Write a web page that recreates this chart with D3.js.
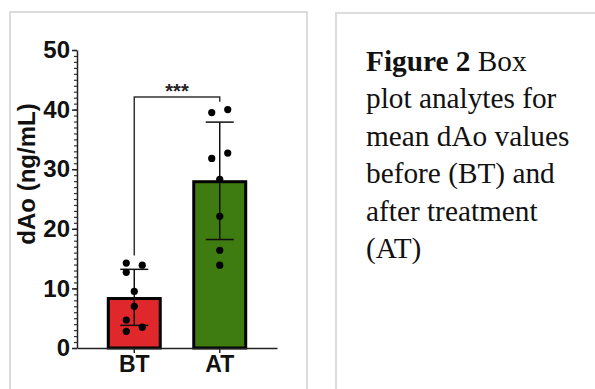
<!DOCTYPE html>
<html>
<head>
<meta charset="utf-8">
<script src="https://cdn.jsdelivr.net/npm/d3@7"></script>
<style>
  html, body { margin: 0; padding: 0; background: #fff; }
  svg { display: block; }
</style>
</head>
<body>
<svg id="chart" width="595" height="389"></svg>
<script>
// ---- data ----
const categories = ["BT", "AT"];
const means = [8.3, 27.9];
const errLow = [3.8, 18.2];
const errHigh = [13.2, 37.9];
const pointsBT = [14.25, 13.9, 12.7, 9.5, 7.0, 4.7, 3.5, 2.8];
const pointsAT = [40.0, 39.5, 32.7, 31.8, 28.3, 22.1, 16.4, 13.9];
const yTicks = [0, 10, 20, 30, 40, 50];
const yTitle = "dAo (ng/mL)";
const sigLabel = "***";
const bracketLevels = [15.5, 42.1, 41.3]; // left leg end, top, right leg end (data units)
const captionBold = "Figure 2";
const captionLines = [" Box", "plot analytes for", "mean dAo values", "before (BT) and", "after treatment", "(AT)"];
const barColors = ["#e0282c", "#3e7b10"];

// ---- setup ----
const svg = d3.select("#chart");
const font = "'Liberation Sans', Arial, sans-serif";

// panels
svg.append("rect").attr("x", 10).attr("y", 12).attr("width", 297).attr("height", 400)
  .attr("fill", "#fff").attr("stroke", "#dcdcdc").attr("stroke-width", 2);
svg.append("rect").attr("x", 336).attr("y", 13).attr("width", 300).attr("height", 400)
  .attr("fill", "#fff").attr("stroke", "#dcdcdc").attr("stroke-width", 2);

const y = d3.scaleLinear().domain([0, 50]).range([348, 50]);
const x = d3.scaleBand().domain(categories).range([77, 277])
  .paddingInner(0.392).paddingOuter(0.366).align(0.5);

const g = svg.append("g");

// bars
g.selectAll("rect.bar").data(categories).join("rect")
  .attr("class", "bar")
  .attr("x", d => x(d))
  .attr("width", x.bandwidth())
  .attr("y", (d, i) => y(means[i]))
  .attr("height", (d, i) => y(0) - y(means[i]))
  .attr("fill", (d, i) => barColors[i])
  .attr("stroke", "#000").attr("stroke-width", 3);

// error bars
const cx = d => x(d) + x.bandwidth() / 2;
categories.forEach((c, i) => {
  g.append("line").attr("x1", cx(c)).attr("x2", cx(c))
    .attr("y1", y(errLow[i])).attr("y2", y(errHigh[i]))
    .attr("stroke", "#111").attr("stroke-width", 1.5);
  [errLow[i], errHigh[i]].forEach(v => {
    g.append("line").attr("x1", cx(c) - 14).attr("x2", cx(c) + 14)
      .attr("y1", y(v)).attr("y2", y(v))
      .attr("stroke", "#111").attr("stroke-width", 1.5);
  });
});

// points with simple scatter (clusters alternate left/right)
function swarm(vals) {
  const sorted = vals.slice().sort((a, b) => a - b);
  const out = [];
  let cluster = [sorted[0]];
  const flush = () => {
    if (cluster.length === 1) out.push({ v: cluster[0], k: 0 });
    else cluster.forEach((v, j) => out.push({ v, k: j % 2 === 0 ? -1 : 1 }));
  };
  for (let j = 1; j < sorted.length; j++) {
    if (Math.abs(y(sorted[j]) - y(sorted[j - 1])) < 10) cluster.push(sorted[j]);
    else { flush(); cluster = [sorted[j]]; }
  }
  flush();
  return out;
}
[pointsBT, pointsAT].forEach((pts, i) => {
  const c = categories[i];
  g.selectAll(null).data(swarm(pts)).join("circle")
    .attr("cx", d => cx(c) + d.k * 8)
    .attr("cy", d => y(d.v))
    .attr("r", 3.6)
    .attr("fill", "#000");
});

// y axis: minor ticks
g.append("g").attr("transform", "translate(77,0)")
  .call(d3.axisLeft(y).tickValues(d3.range(0, 51, 1)).tickSize(3).tickFormat(""))
  .call(s => s.select(".domain").remove())
  .call(s => s.selectAll("line").attr("stroke", "#333").attr("stroke-width", 1.2));

// y axis: major
const yAxis = g.append("g").attr("transform", "translate(77,0)")
  .call(d3.axisLeft(y).tickValues(yTicks).tickSize(5).tickSizeOuter(0).tickPadding(2));
yAxis.select(".domain").attr("stroke", "#222").attr("stroke-width", 1.5);
yAxis.selectAll("line").attr("stroke", "#222").attr("stroke-width", 1.5);
yAxis.selectAll("text").attr("font-family", font).attr("font-weight", "bold")
  .attr("font-size", 24).attr("fill", "#111");

// x axis
const xAxis = g.append("g").attr("transform", "translate(0,348)")
  .call(d3.axisBottom(x).tickSize(5).tickSizeOuter(0).tickPadding(3));
xAxis.select(".domain").attr("stroke", "#222").attr("stroke-width", 1.5);
xAxis.selectAll("line").attr("stroke", "#222").attr("stroke-width", 1.5);
xAxis.selectAll("text").attr("font-family", font).attr("font-weight", "bold")
  .attr("font-size", 23).attr("fill", "#111");

// y title
g.append("text")
  .attr("transform", `translate(35,174) rotate(-90)`)
  .attr("text-anchor", "middle")
  .attr("font-family", font).attr("font-weight", "bold").attr("font-size", 24)
  .attr("fill", "#111")
  .text(yTitle);

// significance bracket
const xl = cx(categories[0]), xr = cx(categories[1]);
g.append("path")
  .attr("d", `M${xl},${y(bracketLevels[0])}V${y(bracketLevels[1])}H${xr}V${y(bracketLevels[2])}`)
  .attr("fill", "none").attr("stroke", "#333").attr("stroke-width", 1.5);
g.append("text")
  .attr("x", (xl + xr) / 2).attr("y", y(bracketLevels[1]) + 0.5)
  .attr("text-anchor", "middle")
  .attr("font-family", font).attr("font-weight", "bold").attr("font-size", 20)
  .attr("fill", "#222")
  .text(sigLabel);

// caption
const cap = svg.append("text")
  .attr("font-family", "'Liberation Serif', 'Times New Roman', serif")
  .attr("font-size", 29.3).attr("fill", "#111");
captionLines.forEach((line, i) => {
  const t = cap.append("tspan").attr("x", 366).attr("y", 70.7 + i * 37.5);
  if (i === 0) {
    t.append("tspan").attr("font-weight", "bold").text(captionBold);
    t.append("tspan").text(line);
  } else {
    t.text(line);
  }
});
</script>
</body>
</html>
